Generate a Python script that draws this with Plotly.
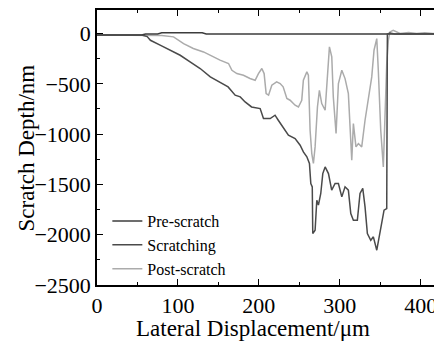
import plotly.graph_objects as go

pre_x = [0, 55, 60, 75, 80, 130, 135, 426]
pre_y = [-15, -15, -5, -5, 8, 8, -5, -5]

scr_x = [0, 55, 62, 66, 78, 90.5, 102.8, 115, 127.5, 140, 152, 162, 170.7, 177, 183, 191,
         201.6, 205.7, 214, 220, 224, 230, 236.5, 244.8, 251, 255, 259.3, 262.5, 264.2, 266,
         266.6, 269.5, 271.6, 273.6, 276.5, 279, 281.9, 286, 290, 294.2, 298.3, 302.5, 306.5,
         310.6, 313.6, 316.8, 321.7, 325, 328.4, 331.2, 334.1, 338.3, 341.5, 345.7, 348.9,
         351.8, 354.7, 358, 358.8, 362, 368, 380, 400, 426]
scr_y = [-15, -15, -30, -67, -116, -166, -216, -282, -348, -431, -481, -531, -613, -630,
         -680, -730, -746, -845, -845, -812, -862, -928, -1011, -1044, -1110, -1177, -1226,
         -1292, -1491, -1524, -1988, -1955, -1657, -1706, -1590, -1392, -1326, -1392, -1557,
         -1491, -1491, -1624, -1524, -1557, -1789, -1856, -1856, -1590, -1540, -1723, -1988,
         -2055, -2021, -2154, -2021, -1889, -1756, -1740, -5, 5, -5, -5, -5, -5]

post_x = [0, 60, 80, 94.6, 107, 119, 131.6, 144, 152, 162.5, 166.7, 172.8, 181, 189, 195.4,
          199.5, 203.7, 206.5, 209, 212, 216, 222, 226.3, 230, 234.6, 238.6, 244.8, 248.9,
          253, 255, 259.3, 261.2, 263.3, 265.4, 267.4, 269.5, 272.4, 274.8, 277.7, 281.9,
          284, 287.2, 290.1, 292, 295.4, 298.3, 302.5, 306.5, 310.6, 313.6, 314.8, 316.8,
          320, 323, 327.1, 331.2, 335.3, 339.5, 342.3, 345.7, 347.6, 350.6, 353.8, 355.9,
          358, 360, 362, 366, 374.4, 385, 395, 405, 415, 421]
post_y = [-15, -15, -20, -33, -100, -149, -183, -232, -265, -298, -365, -398, -415, -447,
          -464, -398, -348, -398, -597, -613, -514, -481, -497, -530, -646, -663, -713, -730,
          -663, -464, -381, -415, -961, -1193, -1292, -1127, -730, -564, -696, -763, -464,
          -133, -232, -630, -994, -497, -365, -448, -597, -1094, -1259, -895, -1127, -1094,
          -1127, -862, -630, -431, -166, -50, -365, -961, -1326, -862, -298, -67, 16, 33, 0,
          10, 0, 8, 0, 5]

names = ["Pre-scratch", "Scratching", "Post-scratch"]
colors = ["#3c3c3c", "#4a4a4a", "#ababab"]
x_title = "Lateral Displacement/μm"
y_title = "Scratch Depth/nm"

FONT = "Liberation Serif, Times New Roman, serif"
tickfont = dict(family=FONT, size=22, color="black")
titlefont = dict(family=FONT, size=23, color="black")

fig = go.Figure()
fig.add_trace(go.Scatter(x=post_x, y=post_y, mode="lines", name=names[2],
                         line=dict(color=colors[2], width=1.5), legendrank=3))
fig.add_trace(go.Scatter(x=pre_x, y=pre_y, mode="lines", name=names[0],
                         line=dict(color=colors[0], width=1.5), legendrank=1))
fig.add_trace(go.Scatter(x=scr_x, y=scr_y, mode="lines", name=names[1],
                         line=dict(color=colors[1], width=1.5), legendrank=2))

fig.update_layout(
    width=434, height=341,
    margin=dict(l=89, r=0, t=2, b=64),
    plot_bgcolor="white", paper_bgcolor="white",
    font=dict(family=FONT, size=22, color="black"),
    legend=dict(x=0.03, y=0.145, xanchor="left", yanchor="middle",
                bgcolor="rgba(0,0,0,0)", font=dict(size=16, family=FONT, color="black"),
                tracegroupgap=0, traceorder="normal"),
    xaxis=dict(range=[0, 426.3], dtick=100, tick0=0, ticks="inside", ticklen=6,
               tickwidth=1.2, tickcolor="black", tickfont=tickfont,
               minor=dict(dtick=50, ticks="inside", ticklen=3, tickcolor="black", tickwidth=1.2),
               showline=True, linecolor="black", linewidth=1.5, mirror="allticks",
               showgrid=False, zeroline=False),
    yaxis=dict(range=[-2500, 234], dtick=500, tick0=0, ticks="inside", ticklen=6,
               tickwidth=1.2, tickcolor="black", tickfont=tickfont,
               minor=dict(dtick=250, ticks="inside", ticklen=3, tickcolor="black", tickwidth=1.2),
               showline=True, linecolor="black", linewidth=1.5, mirror=False,
               showgrid=False, zeroline=False),
    annotations=[
        dict(text=x_title, xref="paper", yref="paper", x=0.452, y=-0.157,
             xanchor="center", yanchor="middle", showarrow=False, font=titlefont),
        dict(text=y_title, xref="paper", yref="paper", x=-0.203, y=0.5,
             xanchor="center", yanchor="middle", textangle=-90, showarrow=False,
             font=titlefont),
    ],
)

fig.write_html("out.html")
